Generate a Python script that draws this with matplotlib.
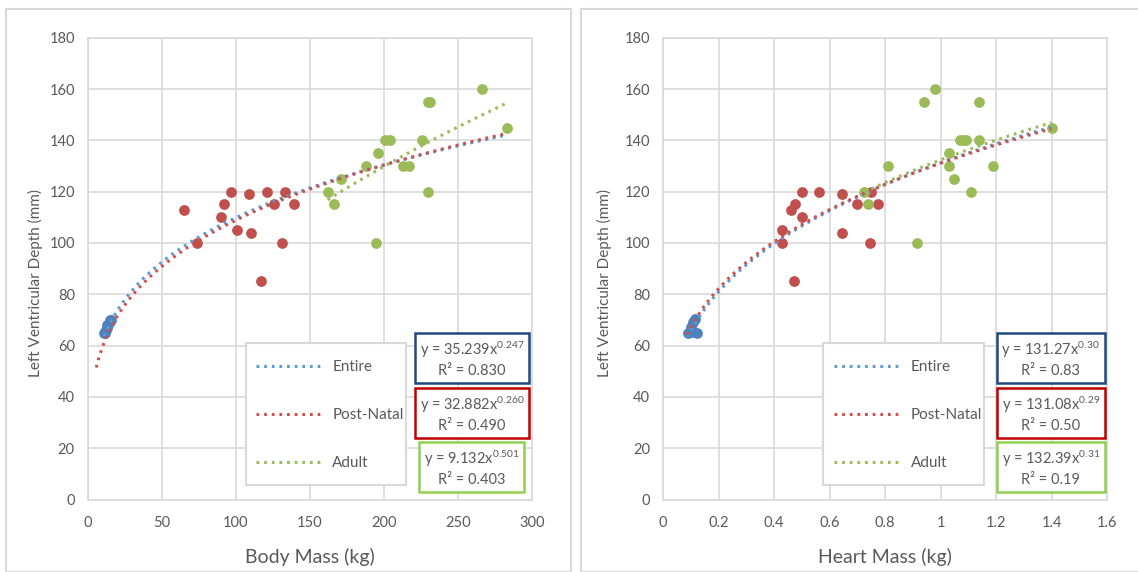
import numpy as np
import matplotlib
matplotlib.use("Agg")
import matplotlib.pyplot as plt
from matplotlib.patches import Rectangle
from matplotlib.ticker import FuncFormatter

plt.rcParams['font.family'] = ['Lato', 'DejaVu Sans']
plt.rcParams['mathtext.fontset'] = 'custom'
plt.rcParams['mathtext.rm'] = 'Lato'
plt.rcParams['mathtext.it'] = 'Lato'

# ---- data: body mass panel ----
body_fetal_x = [11, 11.5, 12, 13, 13, 14, 15, 15.5]
body_fetal_y = [65, 65, 66, 67, 68, 69, 70, 70]
body_post_x = [65, 74, 90, 92, 97, 101, 109, 110, 117, 121, 126, 131, 133, 139]
body_post_y = [113, 100, 110, 115, 120, 105, 119, 104, 85, 120, 115, 100, 120, 115]
body_adult_x = [162, 166, 171, 188, 195, 196, 201, 204, 213, 217, 226, 230, 231, 230, 266, 283]
body_adult_y = [120, 115, 125, 130, 100, 135, 140, 140, 130, 130, 140, 155, 155, 120, 160, 145]

# ---- data: heart mass panel ----
heart_fetal_x = [0.088, 0.108, 0.121, 0.101, 0.108, 0.114]
heart_fetal_y = [64.8, 65.4, 64.8, 67.4, 69.3, 70.2]
heart_post_x = [0.43, 0.43, 0.46, 0.475, 0.47, 0.50, 0.50, 0.56, 0.645, 0.645, 0.70, 0.745, 0.75, 0.775]
heart_post_y = [100, 105, 113, 115, 85, 120, 110, 120, 119, 104, 115, 100, 120, 115]
heart_adult_x = [0.725, 0.74, 0.81, 0.915, 0.94, 0.98, 1.03, 1.03, 1.05, 1.07, 1.08, 1.09, 1.11, 1.14, 1.14, 1.19, 1.40]
heart_adult_y = [120, 115, 130, 100, 155, 160, 135, 130, 125, 140, 140, 140, 120, 140, 155, 130, 145]

# power-law trendlines y = a * x^b, with x range drawn
fit_names = ['Entire', 'Post-Natal', 'Adult']
body_fit_a = ['35.239', '32.882', '9.132']
body_fit_b = ['0.247', '0.260', '0.501']
body_fit_r2 = ['0.830', '0.490', '0.403']
body_fit_range = [(11, 283), (5.6, 283), (162, 283)]

heart_fit_a = ['131.27', '131.08', '132.39']
heart_fit_b = ['0.30', '0.29', '0.31']
heart_fit_r2 = ['0.83', '0.50', '0.19']
heart_fit_range = [(0.088, 1.40), (0.086, 1.40), (0.725, 1.40)]

marker_colors = ['#4F81BD', '#C0504D', '#9BBB59']
line_colors = ['#5B9BD5', '#D0504D', '#9BBB59']
box_colors = ['#1F497D', '#C00000', '#92D050']
grid_c = '#D9D9D9'
text_c = '#595959'


def draw_panel(ax, pts, fits, xlim, xticks, xlabel, leg_frame, leg_x, box_x, ylab_x):
    for (xs, ys), c in zip(pts, marker_colors):
        ax.scatter(xs, ys, s=60, color=c, zorder=2, linewidths=0)
    a_list, b_list, r2_list, rng_list = fits
    handles = []
    for i in range(3):
        xx = np.linspace(rng_list[i][0], rng_list[i][1], 300)
        ln, = ax.plot(xx, float(a_list[i]) * xx ** float(b_list[i]), color=line_colors[i],
                      lw=2.2, linestyle=(0, (0.9, 1.6)), zorder=3, label=fit_names[i])
        handles.append(ln)
    ax.set_xlim(xlim)
    ax.set_ylim(0, 180)
    ax.set_xticks(xticks)
    ax.set_yticks(range(0, 181, 20))
    ax.xaxis.set_major_formatter(FuncFormatter(lambda v, p: f"{v:g}"))
    ax.grid(True, color=grid_c, lw=1.2)
    ax.set_axisbelow(True)
    for s in ax.spines.values():
        s.set_color(grid_c)
        s.set_linewidth(1.2)
    ax.tick_params(length=0, colors=text_c, labelsize=10.5)
    ax.tick_params(axis='x', pad=12)
    ax.tick_params(axis='y', pad=9.5)
    ax.set_xlabel(xlabel, color=text_c, fontsize=14)
    ax.set_ylabel('Left Ventricular Depth (mm)', color=text_c, fontsize=11)
    ax.xaxis.set_label_coords(0.5, -0.105)
    ax.yaxis.set_label_coords(ylab_x, 0.468)

    # legend box (Excel-style tight frame) with the entries placed inside
    ax.add_patch(Rectangle((leg_frame[0], 0.032), leg_frame[1], 0.307, transform=ax.transAxes,
                           fc='white', ec=grid_c, lw=1.5, zorder=4))
    leg = ax.legend(handles=handles, loc='upper left', bbox_to_anchor=(leg_x, 0.302),
                    borderaxespad=0, borderpad=0, fontsize=11, labelspacing=2.23,
                    handlelength=4.2, handletextpad=0.78, frameon=False)
    leg.set_zorder(5)
    for t in leg.get_texts():
        t.set_color(text_c)

    ys = [0.304, 0.185, 0.068]
    for i in range(3):
        txt = f"y = {a_list[i]}x$^{{{b_list[i]}}}$\nR² = {r2_list[i]}"
        ax.text(box_x, ys[i], txt, transform=ax.transAxes, ha='center', va='center',
                fontsize=10.5, color=text_c, linespacing=1.35, zorder=6,
                bbox=dict(boxstyle='square,pad=0.32', fc='white', ec=box_colors[i], lw=1.8))


fig = plt.figure(figsize=(11.38, 5.72), dpi=100)
fig.patches.append(Rectangle((5.5 / 1138, 0), 565.5 / 1138, 1 - 9 / 572, transform=fig.transFigure,
                             fill=False, ec=grid_c, lw=1.5))
fig.patches.append(Rectangle((581 / 1138, 0), 560 / 1138, 1 - 9 / 572, transform=fig.transFigure,
                             fill=False, ec=grid_c, lw=1.5))

ax1 = fig.add_axes([88.0 / 1138, 1 - 499.6 / 572, 443.8 / 1138, 461.9 / 572])
ax2 = fig.add_axes([663.1 / 1138, 1 - 499.6 / 572, 444.0 / 1138, 461.9 / 572])

draw_panel(ax1,
           [(body_fetal_x, body_fetal_y), (body_post_x, body_post_y), (body_adult_x, body_adult_y)],
           (body_fit_a, body_fit_b, body_fit_r2, body_fit_range),
           (0, 300), range(0, 301, 50), 'Body Mass (kg)', (0.355, 0.3625), 0.379, 0.865, -0.101)

draw_panel(ax2,
           [(heart_fetal_x, heart_fetal_y), (heart_post_x, heart_post_y), (heart_adult_x, heart_adult_y)],
           (heart_fit_a, heart_fit_b, heart_fit_r2, heart_fit_range),
           (0, 1.6), np.round(np.arange(0, 1.61, 0.2), 1), 'Heart Mass (kg)', (0.361, 0.3615),
           0.386, 0.873, -0.115)

fig.savefig('out.png', dpi=100)
